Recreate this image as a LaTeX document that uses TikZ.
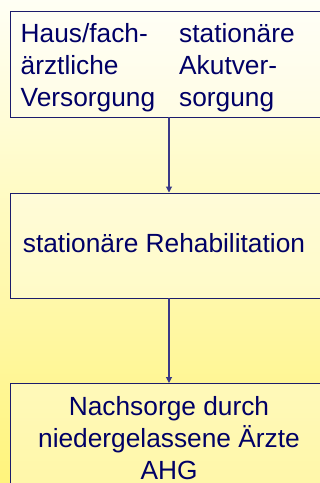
\documentclass[tikz,border=0pt]{standalone}
\usepackage{fontspec}
\setmainfont{Liberation Sans}
\usetikzlibrary{arrows.meta}
\definecolor{navytext}{HTML}{000066}
\definecolor{boxline}{HTML}{1C1C6C}
\definecolor{conn}{HTML}{3A3A88}
\definecolor{bgtop}{HTML}{FFFFF4}
\definecolor{bgbot}{HTML}{FFF47C}
\tikzset{
  boxnode/.style={draw=boxline, line width=1.1pt, fill=white, fill opacity=0.35, draw opacity=1, rectangle, inner sep=0pt, anchor=north west},
  txt/.style={anchor=base west, inner sep=0pt, text=navytext, text opacity=1, font=\fontsize{26.3}{32}\selectfont},
  ctxt/.style={txt, anchor=base},
  conline/.style={draw=conn, line width=1.1pt, -{Triangle[length=6pt,width=6pt]}}
}
\begin{document}
\begin{tikzpicture}[x=1pt,y=-1pt]
\useasboundingbox (0,0) rectangle (320,483);
\shade[top color=bgtop, bottom color=bgbot] (0,0) rectangle (320,483);
% boxes
\node[boxnode, minimum width=320pt, minimum height=106pt] (b1) at (10,11) {};
\node[boxnode, minimum width=320pt, minimum height=105.5pt] (b2) at (10,192.5) {};
\node[boxnode, minimum width=320pt, minimum height=120pt] (b3) at (9.5,383) {};
% texts box 1
\node[txt] (t1a) at (20.5,42) {Haus/fach-};
\node[txt] (t1b) at (20.5,74) {ärztliche};
\node[txt] (t1c) at (20.5,106) {Versorgung};
\node[txt] (t2a) at (179,42) {stationäre};
\node[txt] (t2b) at (179,74) {Akutver-};
\node[txt] (t2c) at (179,106) {sorgung};
% box 2
\node[ctxt] (t3) at (164,252.7) {stationäre Rehabilitation};
% box 3
\node[ctxt] (t4a) at (169,415) {Nachsorge durch};
\node[ctxt] (t4b) at (169,447.5) {niedergelassene Ärzte};
\node[ctxt] (t4c) at (169,479) {AHG};
% connectors
\coordinate (c1s) at (169,117);
\coordinate (c1e) at (169,192.5);
\coordinate (c2s) at (169,298);
\coordinate (c2e) at (169,383);
\draw[conline] (c1s) -- (c1e);
\draw[conline] (c2s) -- (c2e);
\end{tikzpicture}
\end{document}
